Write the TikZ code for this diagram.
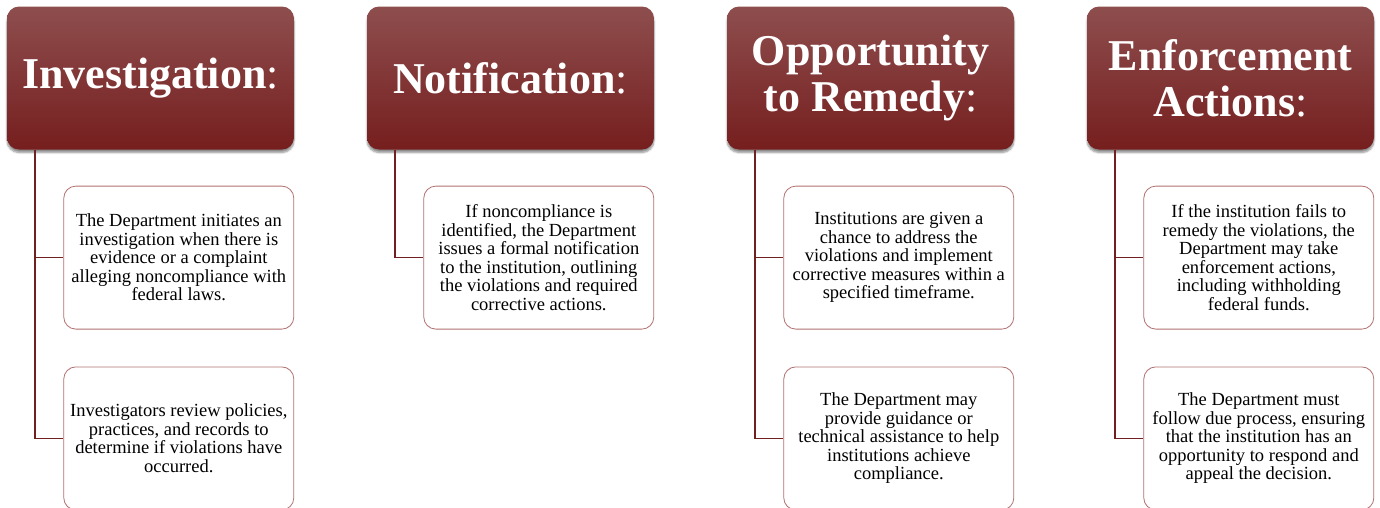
\documentclass[tikz,border=0pt]{standalone}
\usepackage{fontspec}
\setmainfont{Liberation Serif}
\usetikzlibrary{positioning,shadows.blur}

\definecolor{headtop}{RGB}{142,78,78}
\definecolor{headbot}{RGB}{118,30,30}
\definecolor{linkred}{RGB}{112,32,32}
\definecolor{itemline}{RGB}{178,112,112}

\tikzset{
  head/.style={rounded corners=12pt, minimum width=287pt, minimum height=143pt,
    top color=headtop, bottom color=headbot, text=white, align=center,
    font=\fontsize{44}{46}\selectfont,
    blur shadow={shadow xshift=0pt, shadow yshift=-3pt, shadow blur steps=6, shadow opacity=45}},
  item/.style={draw=itemline, line width=0.8pt, rounded corners=12pt, fill=white,
    minimum width=230pt, minimum height=143pt, align=center,
    font=\fontsize{18.5}{18.5}\selectfont},
  link/.style={draw=linkred, line width=1.5pt},
}

\begin{document}
\begin{tikzpicture}[x=1pt,y=1pt]
\useasboundingbox (0,0) rectangle (1380,-507);

% top row
\node[head] (inv) at (150.5,-78) {\textbf{Investigation}:};
\node[head] (note) at (510.5,-78) {\textbf{Notification}:};
\node[head] (remedy) at (870.5,-78) {\textbf{Opportunity}\\\textbf{to Remedy}:};
\node[head] (enf) at (1230.5,-78) {\textbf{Enforcement}\\\textbf{Actions}:};

% details under each step
\node[item, below=36pt of inv.south east, anchor=north east] (inv1)
  {The Department initiates an\\investigation when there is\\evidence or a complaint\\alleging noncompliance with\\federal laws.};
\node[item, below=37pt of inv1] (inv2)
  {Investigators review policies,\\practices, and records to\\determine if violations have\\occurred.};

\node[item, below=36pt of note.south east, anchor=north east] (note1)
  {If noncompliance is\\identified, the Department\\issues a formal notification\\to the institution, outlining\\the violations and required\\corrective actions.};

\node[item, below=36pt of remedy.south east, anchor=north east] (remedy1)
  {Institutions are given a\\chance to address the\\violations and implement\\corrective measures within a\\specified timeframe.};
\node[item, below=37pt of remedy1] (remedy2)
  {The Department may\\provide guidance or\\technical assistance to help\\institutions achieve\\compliance.};

\node[item, below=36pt of enf.south east, anchor=north east] (enf1)
  {If the institution fails to\\remedy the violations, the\\Department may take\\enforcement actions,\\including withholding\\federal funds.};
\node[item, below=37pt of enf1] (enf2)
  {The Department must\\follow due process, ensuring\\that the institution has an\\opportunity to respond and\\appeal the decision.};

% connectors
\draw[link] ([xshift=28pt]inv.south west) |- (inv1.west);
\draw[link] ([xshift=28pt]inv.south west) |- (inv2.west);
\draw[link] ([xshift=28pt]note.south west) |- (note1.west);
\draw[link] ([xshift=28pt]remedy.south west) |- (remedy1.west);
\draw[link] ([xshift=28pt]remedy.south west) |- (remedy2.west);
\draw[link] ([xshift=28pt]enf.south west) |- (enf1.west);
\draw[link] ([xshift=28pt]enf.south west) |- (enf2.west);
\end{tikzpicture}
\end{document}
